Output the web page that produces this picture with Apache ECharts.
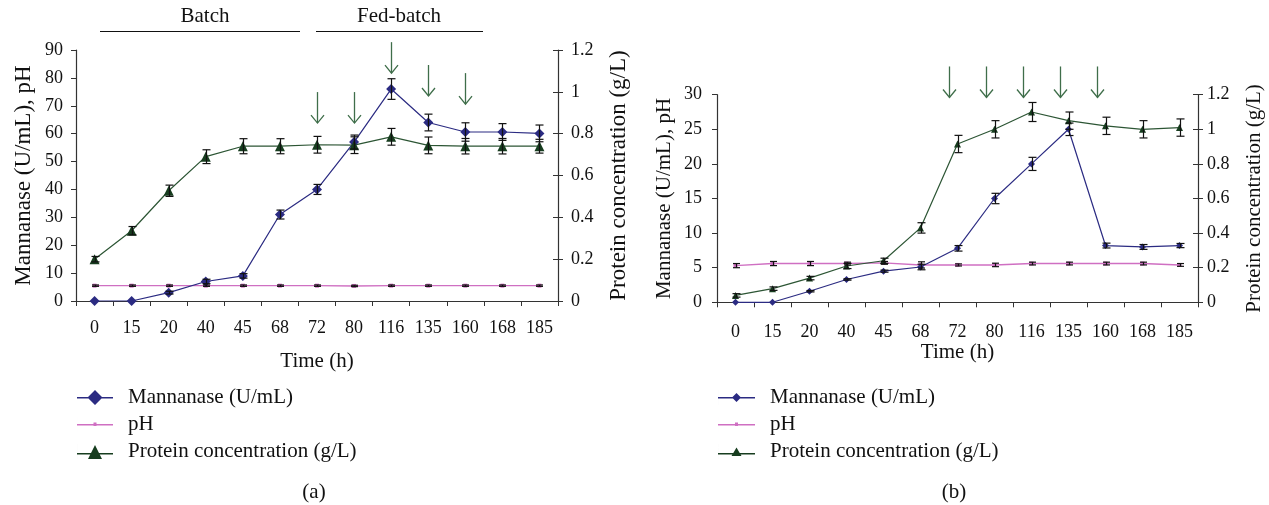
<!DOCTYPE html>
<html>
<head>
<meta charset="utf-8">
<script src="https://cdn.jsdelivr.net/npm/echarts@6/dist/echarts.min.js"></script>
<style>
  html, body { margin: 0; padding: 0; background: #fff; }
  #chart { width: 1269px; height: 505px; }
</style>
</head>
<body>
<div id="chart"></div>
<script>
var times = ["0", "15", "20", "40", "45", "68", "72", "80", "116", "135", "160", "168", "185"];

// panel (a)
var mannanaseA = [0, 0, 3, 7, 9, 31, 40, 57, 76, 64, 60.6, 60.6, 60.1];
var mannanaseErrA = [0, 0, 0.5, 0.8, 0.8, 1.6, 1.8, 2.5, 3.7, 3, 3.3, 3, 3];
var phA = [5.5, 5.5, 5.5, 5.5, 5.5, 5.5, 5.5, 5.4, 5.5, 5.5, 5.5, 5.5, 5.5];
var phErrA = [0.25, 0.25, 0.25, 0.25, 0.25, 0.25, 0.25, 0.25, 0.25, 0.25, 0.25, 0.25, 0.25];
var proteinA = [0.2, 0.336, 0.527, 0.69, 0.74, 0.74, 0.747, 0.745, 0.785, 0.744, 0.74, 0.74, 0.74];
var proteinErrA = [0.013, 0.02, 0.027, 0.033, 0.036, 0.036, 0.04, 0.04, 0.04, 0.04, 0.037, 0.037, 0.033];
var arrowTimesA = ["72", "80", "116", "135", "160"];
var arrowTipsA = [63.8, 63.8, 81.7, 73.5, 70.6];

// panel (b)
var mannanaseB = [0, 0, 1.6, 3.3, 4.5, 5.1, 7.8, 15, 20, 25, 8.2, 8.0, 8.2];
var mannanaseErrB = [0, 0, 0.1, 0.1, 0.15, 0.4, 0.4, 0.75, 0.95, 0.9, 0.35, 0.35, 0.3];
var phB = [5.3, 5.6, 5.6, 5.6, 5.7, 5.4, 5.4, 5.4, 5.6, 5.6, 5.6, 5.6, 5.4];
var phErrB = [0.3, 0.3, 0.3, 0.2, 0.2, 0.45, 0.15, 0.25, 0.2, 0.2, 0.2, 0.2, 0.2];
var proteinB = [0.04, 0.079, 0.14, 0.21, 0.24, 0.43, 0.915, 1.0, 1.1, 1.05, 1.02, 1.0, 1.01];
var proteinErrB = [0.01, 0.01, 0.01, 0.015, 0.015, 0.03, 0.05, 0.05, 0.055, 0.05, 0.05, 0.05, 0.05];
var arrowTimesB = ["72", "80", "116", "135", "160"];
var arrowTipsB = [29.6, 29.6, 29.6, 29.6, 29.6];

var leftTicksA = { min: 0, max: 90, interval: 10 };
var leftTicksB = { min: 0, max: 30, interval: 5 };
var proteinTicks = { min: 0, max: 1.2, interval: 0.2 };

var FONT = "Liberation Serif";
var NAVY = "#2b2b82";
var PINK = "#cf6fc2";
var GREEN = "#2c5534";
var GREEN_DARK = "#173d1f";
var ARROW = "#3f6e4a";

var chart = echarts.init(document.getElementById("chart"));

function errData(values, errs) {
  var out = [];
  values.forEach(function (v, i) {
    if (errs[i] > 0) out.push([i, v - errs[i], v + errs[i]]);
  });
  return out;
}

function errorBars(cap) {
  return function (params, api) {
    var lo = api.coord([api.value(0), api.value(1)]);
    var hi = api.coord([api.value(0), api.value(2)]);
    var x = Math.round(lo[0]) + 0.5;
    var st = { stroke: "#111", lineWidth: 1.2, fill: null };
    return {
      type: "group",
      children: [
        { type: "line", shape: { x1: x, y1: lo[1], x2: x, y2: hi[1] }, style: st },
        { type: "line", shape: { x1: x - cap, y1: lo[1], x2: x + cap, y2: lo[1] }, style: st },
        { type: "line", shape: { x1: x - cap, y1: hi[1], x2: x + cap, y2: hi[1] }, style: st }
      ]
    };
  };
}

function arrows(dx) {
  return function (params, api) {
    var p = api.coord([api.value(0), api.value(1)]);
    var x = Math.round(p[0] + dx) + 0.5, y = p[1];
    var st = { stroke: ARROW, lineWidth: 1.3, fill: null };
    return {
      type: "group",
      children: [
        { type: "line", shape: { x1: x, y1: y - 31, x2: x, y2: y }, style: st },
        { type: "polyline", shape: { points: [[x - 6.5, y - 8], [x, y], [x + 6.5, y - 8]] }, style: st }
      ]
    };
  };
}

function panelSeries(xi, yl, yr, d) {
  return [
    {
      name: "Mannanase (U/mL)", type: "line", xAxisIndex: xi, yAxisIndex: yl,
      data: d.man, symbol: "diamond", symbolSize: d.sym,
      lineStyle: { color: NAVY, width: 1.2 }, itemStyle: { color: NAVY }, z: 3
    },
    {
      name: "pH", type: "line", xAxisIndex: xi, yAxisIndex: yl,
      data: d.ph, symbol: "rect", symbolSize: 4,
      lineStyle: { color: PINK, width: 1.4 }, itemStyle: { color: PINK }, z: 2
    },
    {
      name: "Protein concentration (g/L)", type: "line", xAxisIndex: xi, yAxisIndex: yr,
      data: d.pro, symbol: "triangle", symbolSize: d.sym,
      lineStyle: { color: GREEN, width: 1.2 }, itemStyle: { color: GREEN_DARK }, z: 3
    },
    { type: "custom", xAxisIndex: xi, yAxisIndex: yl, renderItem: errorBars(4), data: errData(d.man, d.manErr), z: 5, silent: true },
    { type: "custom", xAxisIndex: xi, yAxisIndex: yl, renderItem: errorBars(3.5), data: errData(d.ph, d.phErr), z: 5, silent: true },
    { type: "custom", xAxisIndex: xi, yAxisIndex: yr, renderItem: errorBars(4), data: errData(d.pro, d.proErr), z: 5, silent: true },
    {
      type: "custom", xAxisIndex: xi, yAxisIndex: yl, renderItem: arrows(d.arrowDx), z: 6, silent: true,
      data: d.arrowTimes.map(function (t, i) { return [times.indexOf(t), d.arrowTips[i]]; })
    }
  ];
}

function xAxis(gi, gap, margin) {
  return {
    type: "category", gridIndex: gi, data: times, boundaryGap: true,
    name: "Time (h)", nameLocation: "middle", nameGap: gap,
    nameTextStyle: { fontFamily: FONT, fontSize: 21, color: "#111" },
    axisLine: { lineStyle: { color: "#333", width: 1.2 } },
    axisTick: { show: true, length: 5, lineStyle: { color: "#333" } },
    axisLabel: { fontFamily: FONT, fontSize: 18, color: "#111", margin: margin, interval: 0 }
  };
}

function leftAxis(gi, t, gap, margin, fs) {
  return {
    type: "value", gridIndex: gi, position: "left", min: t.min, max: t.max, interval: t.interval,
    name: "Mannanase (U/mL), pH", nameLocation: "middle", nameGap: gap,
    nameTextStyle: { fontFamily: FONT, fontSize: fs, color: "#111" },
    splitLine: { show: false },
    axisLine: { show: true, lineStyle: { color: "#333", width: 1.2 } },
    axisTick: { show: true, length: 5, lineStyle: { color: "#333" } },
    axisLabel: { fontFamily: FONT, fontSize: 18, color: "#111", margin: margin }
  };
}

function rightAxis(gi, gap, margin, fs) {
  return {
    type: "value", gridIndex: gi, position: "right",
    min: proteinTicks.min, max: proteinTicks.max, interval: proteinTicks.interval,
    name: "Protein concentration (g/L)", nameLocation: "middle", nameGap: gap, nameRotate: 90,
    nameTextStyle: { fontFamily: FONT, fontSize: fs, color: "#111" },
    splitLine: { show: false },
    axisLine: { show: true, lineStyle: { color: "#333", width: 1.2 } },
    axisTick: { show: true, length: 5, lineStyle: { color: "#333" } },
    axisLabel: { fontFamily: FONT, fontSize: 18, color: "#111", margin: margin }
  };
}

// inner half of the crossing ticks on the right axes
function rightInner(gi) {
  return {
    type: "value", gridIndex: gi, position: "right",
    min: proteinTicks.min, max: proteinTicks.max, interval: proteinTicks.interval,
    splitLine: { show: false }, axisLine: { show: false }, axisLabel: { show: false },
    axisTick: { show: true, inside: true, length: 5, lineStyle: { color: "#333" } }
  };
}

function legend(left, w, icons) {
  return {
    orient: "vertical", left: left, top: 387, padding: 0, itemWidth: w, itemHeight: 16, itemGap: 6,
    selectedMode: false,
    textStyle: { fontFamily: FONT, fontSize: 21, color: "#111", lineHeight: 21, padding: [0, 0, 0, 10] },
    data: [
      { name: "Mannanase (U/mL)", icon: icons[0], itemStyle: { color: NAVY, borderWidth: 0 } },
      { name: "pH", icon: icons[1], itemStyle: { color: PINK, borderWidth: 0 } },
      { name: "Protein concentration (g/L)", icon: icons[2], itemStyle: { color: GREEN_DARK, borderWidth: 0 } }
    ]
  };
}

var iconsA = [
  "path://M0,7.5 L36,7.5 L36,9 L0,9 Z M18,0.5 L25.5,8 L18,15.5 L10.5,8 Z",
  "path://M0,7.5 L36,7.5 L36,9 L0,9 Z M16.5,6 L19.5,6 L19.5,9.5 L16.5,9.5 Z M0,0 L0.01,0 L0.01,16 L0,16 Z",
  "path://M0,9.5 L36,9.5 L36,11 L0,11 Z M18,1.5 L25,15.5 L11,15.5 Z M0,0 L0.01,0 L0.01,16 L0,16 Z"
];
var iconsB = [
  "path://M0,7.5 L37,7.5 L37,9 L0,9 Z M18.5,3.5 L23,8 L18.5,12.5 L14,8 Z M0,0 L0.01,0 L0.01,16 L0,16 Z",
  "path://M0,7.5 L37,7.5 L37,9 L0,9 Z M17,6 L20,6 L20,9.5 L17,9.5 Z M0,0 L0.01,0 L0.01,16 L0,16 Z",
  "path://M0,9.5 L37,9.5 L37,11 L0,11 Z M18.5,4 L23.5,12.5 L13.5,12.5 Z M0,0 L0.01,0 L0.01,16 L0,16 Z"
];

var labelStyle = { fontFamily: FONT, fontSize: 21, fill: "#111", textAlign: "center", textVerticalAlign: "middle" };

var option = {
  animation: false,
  backgroundColor: "#fff",
  grid: [
    { left: 76, top: 50, width: 482, height: 251 },
    { left: 717, top: 94.7, width: 481, height: 207.6 }
  ],
  xAxis: [xAxis(0, 50, 18), xAxis(1, 37, 21)],
  yAxis: [
    leftAxis(0, leftTicksA, 41, 13, 23),
    rightAxis(0, 49, 13, 23),
    rightInner(0),
    leftAxis(1, leftTicksB, 42, 15, 21),
    rightAxis(1, 46, 9, 21),
    rightInner(1)
  ],
  legend: [legend(77, 36, iconsA), legend(718, 37, iconsB)],
  series: panelSeries(0, 0, 1, {
    man: mannanaseA, manErr: mannanaseErrA, ph: phA, phErr: phErrA, pro: proteinA, proErr: proteinErrA,
    arrowTimes: arrowTimesA, arrowTips: arrowTipsA, arrowDx: 0, sym: 10
  }).concat(panelSeries(1, 3, 4, {
    man: mannanaseB, manErr: mannanaseErrB, ph: phB, phErr: phErrB, pro: proteinB, proErr: proteinErrB,
    arrowTimes: arrowTimesB, arrowTips: arrowTipsB, arrowDx: -9, sym: 7
  })),
  graphic: [
    { type: "text", x: 205, y: 16, style: Object.assign({ text: "Batch" }, labelStyle) },
    { type: "line", shape: { x1: 100, y1: 31.5, x2: 300, y2: 31.5 }, style: { stroke: "#111", lineWidth: 1.2 } },
    { type: "text", x: 399, y: 16, style: Object.assign({ text: "Fed-batch" }, labelStyle) },
    { type: "line", shape: { x1: 316, y1: 31.5, x2: 483, y2: 31.5 }, style: { stroke: "#111", lineWidth: 1.2 } },
    { type: "text", x: 314, y: 492, style: Object.assign({ text: "(a)" }, labelStyle) },
    { type: "text", x: 954, y: 492, style: Object.assign({ text: "(b)" }, labelStyle) }
  ]
};

chart.setOption(option);
</script>
</body>
</html>
